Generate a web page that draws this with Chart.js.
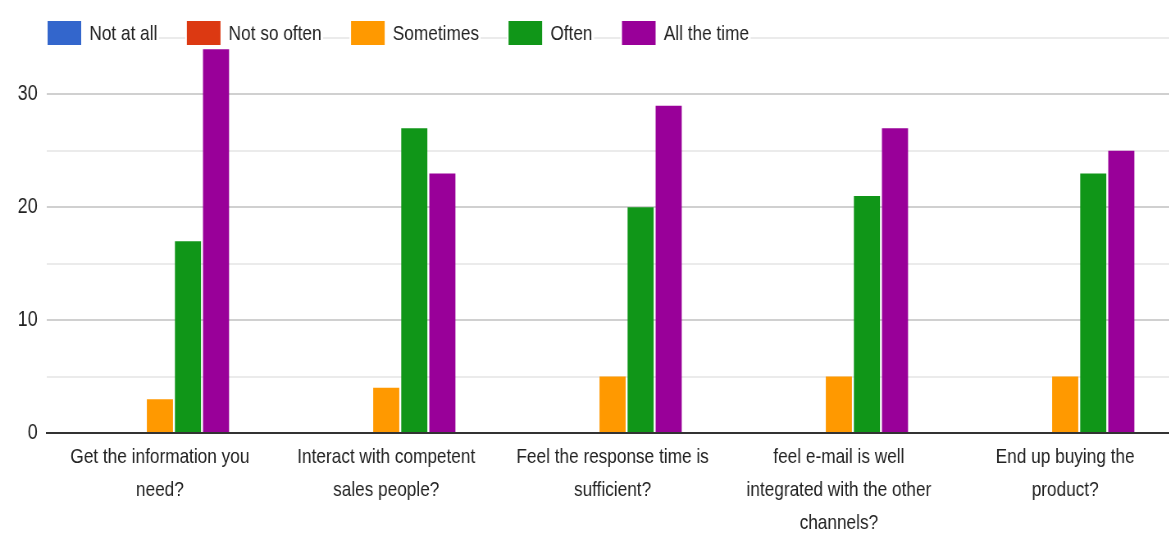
<!DOCTYPE html>
<html>
<head>
<meta charset="utf-8">
<script src="https://cdn.jsdelivr.net/npm/chart.js@4/dist/chart.umd.min.js"></script>
<style>
  html, body { margin: 0; padding: 0; background: #fff; overflow: hidden; }
  /* the chart is laid out wide and squeezed horizontally to get the narrow type */
  #wrap { width: 1437px; height: 536px; transform: scaleX(0.82); transform-origin: 0 0; }
</style>
</head>
<body>
<div id="wrap"><canvas id="surveyChart"></canvas></div>
<script>
// Survey answers per question
const questions = [
    ['Get the information you', 'need?'],
    ['Interact with competent', 'sales people?'],
    ['Feel the response time is', 'sufficient?'],
    ['feel e-mail is well', 'integrated with the other', 'channels?'],
    ['End up buying the', 'product?']
];
const answerLabels = ['Not at all', 'Not so often', 'Sometimes', 'Often', 'All the time'];
const notAtAll = [0, 0, 0, 0, 0];
const notSoOften = [0, 0, 0, 0, 0];
const sometimes = [3, 4, 5, 5, 5];
const often = [17, 27, 20, 21, 23];
const allTheTime = [34, 23, 29, 27, 25];
const yTicks = [0, 10, 20, 30];

const colors = ['#3366cc', '#dc3912', '#ff9900', '#109618', '#990099'];
const FONT = '"Liberation Sans", Arial, sans-serif';

// Legend drawn on the top gridline, like the original form summary
const inlineLegend = {
    id: 'inlineLegend',
    afterDraw(chart) {
        const ctx = chart.ctx;
        const boxW = 41, boxH = 24, textGap = 10, itemGap = 36;
        let x = 58;
        const y = 33;
        ctx.save();
        ctx.font = '21px ' + FONT;
        ctx.textBaseline = 'middle';
        chart.data.datasets.forEach(ds => {
            const tw = ctx.measureText(ds.label).width;
            ctx.fillStyle = '#fff';
            ctx.fillRect(x - 2, y - 14, boxW + textGap + tw + 4, 28);
            ctx.fillStyle = ds.backgroundColor;
            ctx.fillRect(x, y - boxH / 2, boxW, boxH);
            ctx.fillStyle = '#222';
            ctx.fillText(ds.label, x + boxW + textGap, y + 1);
            x += boxW + textGap + tw + itemGap;
        });
        ctx.restore();
    }
};

const seriesValues = [notAtAll, notSoOften, sometimes, often, allTheTime];

new Chart(document.getElementById('surveyChart'), {
    type: 'bar',
    data: {
        labels: questions,
        datasets: answerLabels.map((label, i) => ({
            label: label,
            data: seriesValues[i],
            backgroundColor: colors[i],
            borderWidth: 0,
            categoryPercentage: 0.62,
            barPercentage: 0.93
        }))
    },
    options: {
        responsive: true,
        maintainAspectRatio: false,
        animation: false,
        layout: { padding: { top: 38, right: 0, left: 0, bottom: 0 } },
        plugins: {
            legend: { display: false },
            tooltip: { enabled: false }
        },
        scales: {
            x: {
                grid: { display: false, drawTicks: false },
                border: { color: '#333', width: 2 },
                ticks: {
                    color: '#222',
                    maxRotation: 0,
                    autoSkip: false,
                    padding: 8,
                    font: { family: FONT, size: 21, lineHeight: 1.57 }
                },
                afterFit(scale) { scale.height = 103; }
            },
            y: {
                min: 0,
                max: 35,
                grid: {
                    drawTicks: false,
                    color: ctx => (ctx.tick && ctx.tick.value % 10 === 0) ? '#d0d0d0' : '#ebebeb',
                    lineWidth: 2
                },
                border: { display: false },
                ticks: {
                    stepSize: 5,
                    color: '#222',
                    padding: 11,
                    font: { family: FONT, size: 22 },
                    callback: v => yTicks.includes(v) ? v : ''
                },
                afterFit(scale) { scale.width = 57; }
            }
        }
    },
    plugins: [inlineLegend]
});
</script>
</body>
</html>
